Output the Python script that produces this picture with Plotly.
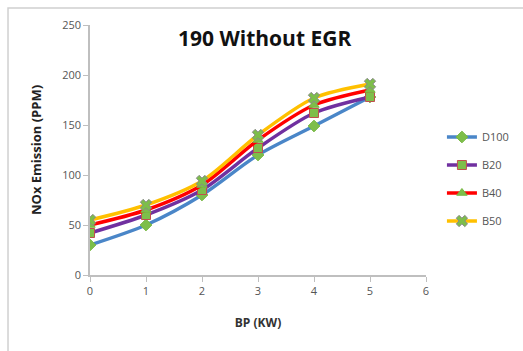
import plotly.graph_objects as go

bp = [0, 1, 2, 3, 4, 5]
series_names = ["D100", "B20", "B40", "B50"]
d100 = [30, 50, 80, 120, 149, 178]
b20 = [42, 60, 85, 127, 162, 178]
b40 = [50, 65, 90, 135, 170, 185]
b50 = [55, 70, 94, 140, 177, 191]
x_ticks = [0, 1, 2, 3, 4, 5, 6]
y_ticks = [0, 50, 100, 150, 200, 250]

values = [d100, b20, b40, b50]
line_colors = ["#4A86C8", "#7030A0", "#FF0000", "#FFC000"]
symbols = ["diamond", "square", "triangle-up", "x"]
marker_line = ["#77B843", "#C0504D", "#77B843", "#8A8A8A"]

fig = go.Figure()
for i, (name, vals) in enumerate(zip(series_names, values)):
    fig.add_trace(go.Scatter(
        x=bp, y=vals, name=name, mode="lines+markers",
        line=dict(color=line_colors[i], width=3.5, shape="spline", smoothing=0.8),
        marker=dict(symbol=symbols[i], size=9 if symbols[i] != "x" else 10,
                    color="#7DBE4A", line=dict(color=marker_line[i], width=1)),
        legendgroup=name,
    ))

fig.update_layout(
    width=523, height=351,
    margin=dict(l=90, r=97, t=25, b=76, autoexpand=False),
    paper_bgcolor="white", plot_bgcolor="white",
    showlegend=True,
    legend=dict(xref="container", yref="container", x=0.845, y=0.49,
                xanchor="left", yanchor="middle", itemwidth=30,
                font=dict(family="Open Sans", size=11, color="#555555"),
                tracegroupgap=9, bgcolor="rgba(0,0,0,0)"),
    font=dict(family="Open Sans", color="#555555"),
)
fig.update_xaxes(range=[0, 6], tickvals=x_ticks, showgrid=False, zeroline=False,
                 showline=True, linecolor="#BFBFBF", linewidth=1.5,
                 ticks="outside", ticklen=5, tickcolor="#BFBFBF",
                 tickfont=dict(family="Open Sans", size=11, color="#555555"),
                 title=dict(text="<b>BP (KW)</b>", font=dict(family="Open Sans", size=12, color="#333333"),
                            standoff=22))
fig.update_yaxes(range=[0, 250], tickvals=y_ticks, showgrid=False, zeroline=False,
                 showline=True, linecolor="#BFBFBF", linewidth=1.5,
                 ticks="outside", ticklen=5, tickcolor="#BFBFBF",
                 tickfont=dict(family="Open Sans", size=11, color="#555555"),
                 title=dict(text="<b>NOx Emission (PPM)</b>", font=dict(family="Open Sans", size=13, color="#222222"),
                            standoff=18))
fig.add_annotation(text="<b>190 Without EGR</b>", xref="paper", yref="paper",
                   x=0.52, y=0.948, showarrow=False, xanchor="center", yanchor="middle",
                   font=dict(family="Open Sans", size=21, color="#111111"))
fig.add_shape(type="rect", xref="paper", yref="paper",
              x0=-0.244, y0=-0.36, x1=1.35, y1=1.068,
              line=dict(color="#D0D0D0", width=1.5), layer="below")

fig.write_html("out.html")
